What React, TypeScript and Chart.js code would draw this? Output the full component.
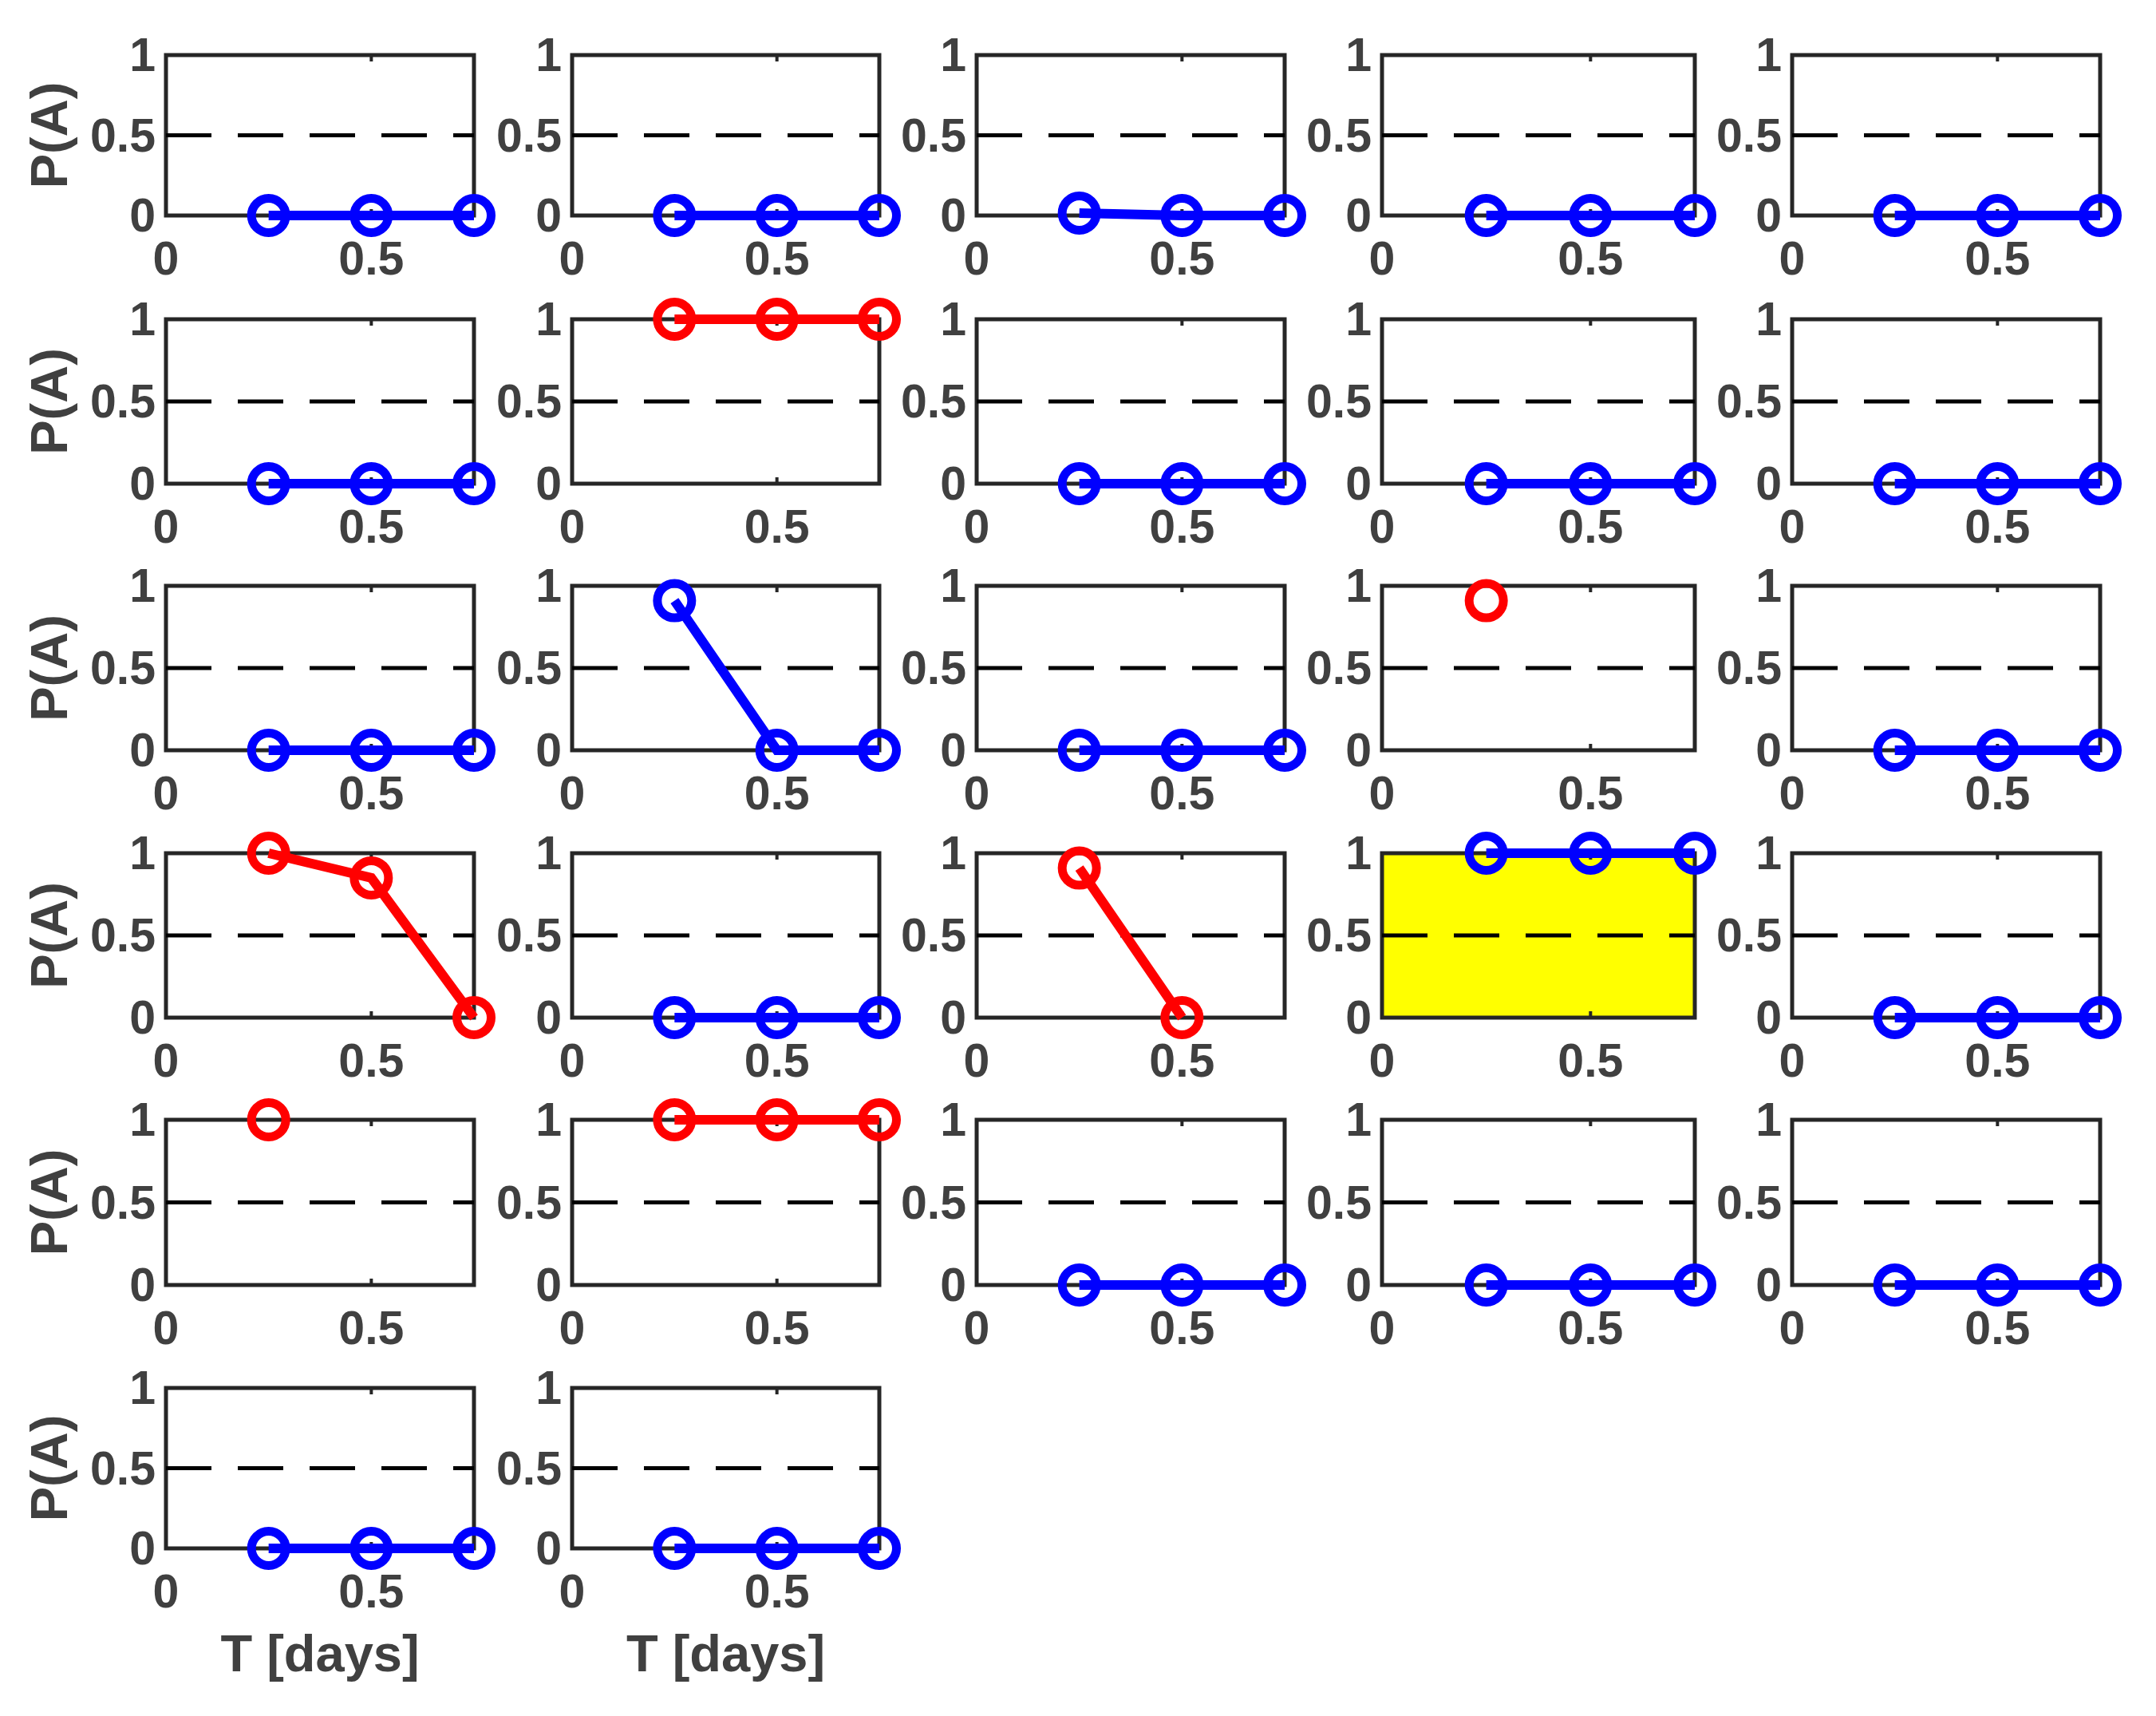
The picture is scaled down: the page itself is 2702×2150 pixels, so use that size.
import React, { useEffect, useRef } from 'react';
import { Chart, registerables } from 'chart.js';

Chart.register(...registerables);

// ---------------- data ----------------
const T_DAYS = [0.25, 0.5, 0.75];
const X_TICKS = [0, 0.5];
const Y_TICKS = [0, 0.5, 1];
const X_MIN = 0;
const X_MAX = 0.75;
const Y_MIN = 0;
const Y_MAX = 1;
const THRESHOLD = 0.5;
const Y_LABEL = 'P(A)';
const X_LABEL = 'T [days]';

// P(A) per panel, row-major (5 per row); null = no point
const P01 = [0, 0, 0];
const P02 = [0, 0, 0];
const P03 = [0.015, 0, 0];
const P04 = [0, 0, 0];
const P05 = [0, 0, 0];
const P06 = [0, 0, 0];
const P07 = [1, 1, 1];
const P08 = [0, 0, 0];
const P09 = [0, 0, 0];
const P10 = [0, 0, 0];
const P11 = [0, 0, 0];
const P12 = [0.91, 0, 0];
const P13 = [0, 0, 0];
const P14 = [0.91, null, null];
const P15 = [0, 0, 0];
const P16 = [1, 0.85, 0];
const P17 = [0, 0, 0];
const P18 = [0.91, 0, null];
const P19 = [1, 1, 1];
const P20 = [0, 0, 0];
const P21 = [1, null, null];
const P22 = [1, 1, 1];
const P23 = [0, 0, 0];
const P24 = [0, 0, 0];
const P25 = [0, 0, 0];
const P26 = [0, 0, 0];
const P27 = [0, 0, 0];

const PANEL_SERIES: (number | null)[][] = [
  P01, P02, P03, P04, P05,
  P06, P07, P08, P09, P10,
  P11, P12, P13, P14, P15,
  P16, P17, P18, P19, P20,
  P21, P22, P23, P24, P25,
  P26, P27,
];

// 'b' = blue series, 'r' = red series
const PANEL_KIND = [
  'b', 'b', 'b', 'b', 'b',
  'b', 'r', 'b', 'b', 'b',
  'b', 'b', 'b', 'r', 'b',
  'r', 'b', 'r', 'b', 'b',
  'r', 'r', 'b', 'b', 'b',
  'b', 'b',
];
const HIGHLIGHTED_PANELS = [19]; // 1-based panel number with yellow background

// ---------------- layout / style ----------------
const COLS = 5;
const COL_LEFT = [208, 717, 1224, 1732, 2246];
const COL_RIGHT = [594, 1102, 1610, 2124, 2632];
const ROW_TOP = [69, 400, 734, 1069, 1403, 1739];
const ROW_BOTTOM = [270, 606, 940, 1275, 1610, 1940];

const PAD_L = 200; // y-axis area width
const PAD_T = 60;
const PAD_R = 50;
const PAD_B = 190; // x-axis area height

const FONT_FAMILY = "'Liberation Sans', Arial, Helvetica, sans-serif";
const TEXT_COLOR = '#404040';
const BLUE = '#0000FF';
const RED = '#FF0000';
const YELLOW = '#FFFF00';
const FRAME_COLOR = '#262626';

const framePlugin = {
  id: 'panelFrame',
  beforeDatasetsDraw(chart: any, _args: any, opts: any) {
    const { ctx, chartArea } = chart;
    const { left, top, right, bottom } = chartArea;
    const xs = chart.scales.x;
    const ys = chart.scales.y;
    ctx.save();
    if (opts && opts.highlight) {
      ctx.fillStyle = YELLOW;
      ctx.fillRect(left, top, right - left, bottom - top);
    }
    ctx.strokeStyle = FRAME_COLOR;
    ctx.lineWidth = 4;
    ctx.beginPath();
    for (const v of X_TICKS) {
      const px = xs.getPixelForValue(v);
      ctx.moveTo(px, top);
      ctx.lineTo(px, top + 8);
      ctx.moveTo(px, bottom);
      ctx.lineTo(px, bottom - 8);
    }
    for (const v of Y_TICKS) {
      const py = ys.getPixelForValue(v);
      ctx.moveTo(left, py);
      ctx.lineTo(left + 8, py);
      ctx.moveTo(right, py);
      ctx.lineTo(right - 8, py);
    }
    ctx.stroke();
    ctx.lineWidth = 5;
    ctx.lineJoin = 'miter';
    ctx.strokeRect(left, top, right - left, bottom - top);
    ctx.restore();
  },
};

const LAST_ROW = Math.floor((PANEL_SERIES.length - 1) / COLS);

function Panel({ index }: { index: number }) {
  const ref = useRef<HTMLCanvasElement | null>(null);
  const r = Math.floor(index / COLS);
  const c = index % COLS;
  const bx = COL_LEFT[c];
  const bw = COL_RIGHT[c] - COL_LEFT[c];
  const by = ROW_TOP[r];
  const bh = ROW_BOTTOM[r] - ROW_TOP[r];
  const W = PAD_L + bw + PAD_R;
  const H = PAD_T + bh + PAD_B;
  const lastRow = r === LAST_ROW;

  useEffect(() => {
    if (!ref.current) return;
    const values = PANEL_SERIES[index];
    const color = PANEL_KIND[index] === 'r' ? RED : BLUE;
    const pts = T_DAYS.map((t, i) => ({ x: t, y: values[i] })).filter((p) => p.y !== null);
    const tickFont = { family: FONT_FAMILY, size: 59, weight: 'bold' as const, lineHeight: 1.2 };
    const titleFont = { family: FONT_FAMILY, size: 65, weight: 'bold' as const, lineHeight: 1.2 };
    const chart = new Chart(ref.current, {
      type: 'line',
      data: {
        datasets: [
          {
            data: pts as any,
            borderColor: color,
            backgroundColor: 'rgba(0,0,0,0)',
            borderWidth: 12,
            pointRadius: 21.5,
            pointHoverRadius: 21.5,
            pointBorderWidth: 11,
            pointBorderColor: color,
            pointBackgroundColor: 'rgba(0,0,0,0)',
            pointStyle: 'circle',
            tension: 0,
            clip: false as any,
            order: 0,
          },
          {
            data: [
              { x: X_MIN, y: THRESHOLD },
              { x: X_MAX, y: THRESHOLD },
            ],
            borderColor: '#000000',
            borderWidth: 5,
            borderDash: [57, 33],
            pointRadius: 0,
            tension: 0,
            order: 1,
          },
        ],
      },
      options: {
        animation: false,
        responsive: false,
        events: [],
        layout: { padding: { left: 0, top: PAD_T, right: PAD_R, bottom: 0 } },
        plugins: {
          legend: { display: false },
          tooltip: { enabled: false },
          panelFrame: { highlight: HIGHLIGHTED_PANELS.includes(index + 1) },
        } as any,
        scales: {
          x: {
            type: 'linear',
            min: X_MIN,
            max: X_MAX,
            position: 'bottom',
            grid: { display: false, drawTicks: false },
            border: { display: false },
            afterBuildTicks: (s: any) => {
              s.ticks = X_TICKS.map((v) => ({ value: v }));
            },
            afterFit: (s: any) => {
              s.height = PAD_B;
            },
            ticks: {
              autoSkip: false,
              maxRotation: 0,
              minRotation: 0,
              padding: 22,
              color: TEXT_COLOR,
              font: tickFont,
              callback: (v: any) => String(v),
            },
            title: {
              display: lastRow,
              text: X_LABEL,
              color: TEXT_COLOR,
              font: titleFont,
              padding: { top: 0, bottom: 15 },
            },
          },
          y: {
            type: 'linear',
            min: Y_MIN,
            max: Y_MAX,
            position: 'left',
            grid: { display: false, drawTicks: false },
            border: { display: false },
            afterBuildTicks: (s: any) => {
              s.ticks = Y_TICKS.map((v) => ({ value: v }));
            },
            afterFit: (s: any) => {
              s.width = PAD_L;
            },
            ticks: {
              autoSkip: false,
              padding: 13,
              labelOffset: 4,
              color: TEXT_COLOR,
              font: tickFont,
              callback: (v: any) => String(v),
            },
            title: {
              display: c === 0,
              text: Y_LABEL,
              color: TEXT_COLOR,
              font: titleFont,
              padding: { top: 19, bottom: 0 },
            },
          },
        },
      } as any,
      plugins: [framePlugin],
    });
    return () => chart.destroy();
  }, [index]);

  return (
    <canvas
      ref={ref}
      width={W}
      height={H}
      style={{ position: 'absolute', left: bx - PAD_L, top: by - PAD_T, width: W, height: H }}
    />
  );
}

export default function App() {
  return (
    <div
      style={{
        position: 'absolute',
        left: 0,
        top: 0,
        width: 2702,
        height: 2150,
        background: '#ffffff',
        overflow: 'hidden',
      }}
    >
      {PANEL_SERIES.map((_, i) => (
        <Panel key={i} index={i} />
      ))}
    </div>
  );
}
